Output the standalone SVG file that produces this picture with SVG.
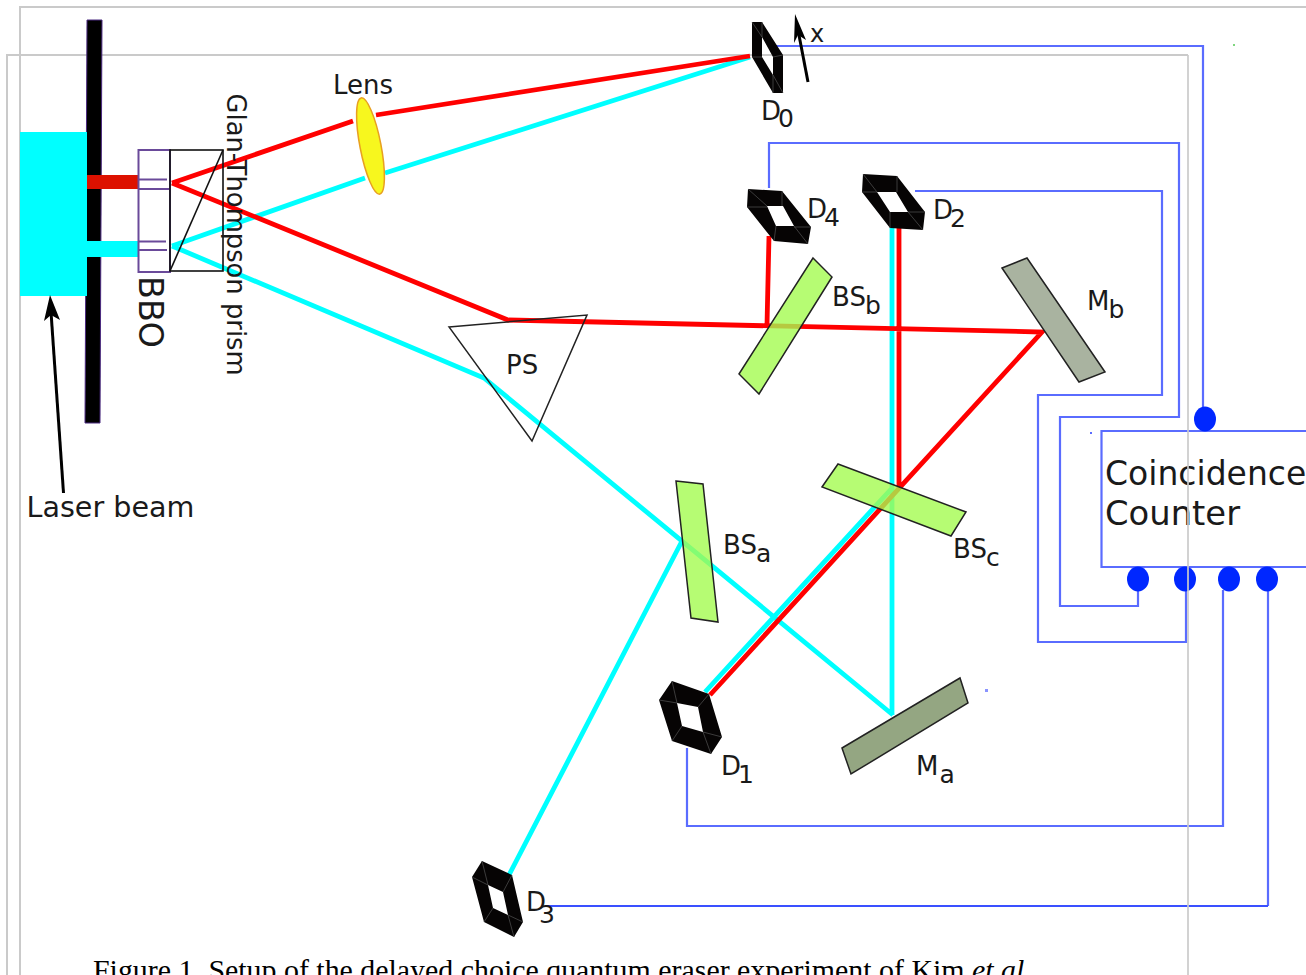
<svg xmlns="http://www.w3.org/2000/svg" width="1306" height="975" viewBox="0 0 1306 975">
<style>
text{font-family:"DejaVu Sans",sans-serif;fill:#1a1a1a}
.frame{fill:none;stroke:#cacaca;stroke-width:2}
.wire{fill:none;stroke:#5a6cff;stroke-width:2.200}
.red{fill:none;stroke:#ff0000;stroke-width:4.800}
.cy{fill:none;stroke:#00ffff;stroke-width:4.800}
.det{fill:#060404;fill-rule:evenodd}
.fac{fill:none;stroke:#4a4a4a;stroke-width:.8}
.dot{fill:#0027ff}
.bs{fill:#a4fb50;fill-opacity:.8;stroke:#222;stroke-width:1.500}
.lbl{font-size:26px}
.s{font-size:25px}
.bb{fill:none;stroke:#6a4a9a;stroke-width:2}
.pr{fill:none;stroke:#111;stroke-width:1.600}
</style>
<rect width="1306" height="975" fill="#fff"/>
<g id="frame"><path class="frame" d="M1306 7H20V975M7 975V55H1188"/></g>
<g id="laser"><path d="M87 20H102L100 423H85Z" fill="#000" stroke="#4b2a80" stroke-width="1"/><rect x="20" y="132" width="67" height="164" fill="#00ffff"/><rect x="87" y="175" width="51" height="14" fill="#dd1100"/><rect x="87" y="241" width="51" height="16" fill="#00ffff"/></g>
<g id="connectors">
<path class="cy" d="M172 246L365 178M385 173L750 57M172 246L484 378L893 715M892 715V228M682 541L509 875M893 487L705 692"/>
<path class="red" d="M172 183L353 121M376 115L750 56M172 183L508 320L1042 332L710 695M767 325L769 236M899 228V487"/>
<path class="wire" d="M775 46H1203V410M769 188V143H1179V417H1060V606H1138V590M915 191H1162V395H1038V642H1186V590M687 748V826H1223V590M1268 906V590"/>
<path class="wire" style="stroke:#3a50ff" d="M545 906H1268"/>
</g>
<g id="bbo"><rect class="bb" x="138.500" y="150" width="31.500" height="122"/><path class="bb" d="M138 179.500H167M138 189H170M138 241.500H166M138 250H167"/><text transform="translate(139,276) rotate(90)" font-size="33.500">BBO</text></g>
<g id="prism"><rect class="pr" x="170" y="150" width="53" height="121"/><path class="pr" d="M223 150L170 271"/><text transform="translate(227,93.500) rotate(90)" style="font-size:25.800px">Glan-Thompson prism</text></g>
<g id="lens"><ellipse cx="370.500" cy="146" rx="10.500" ry="49" transform="rotate(-11 370.500 146)" fill="#f7f71e" stroke="#e8a020" stroke-width="1.500"/><text x="333" y="94" class="lbl">Lens</text></g>
<g id="ps"><path d="M449 327L587 315L532 441Z" fill="none" stroke="#222" stroke-width="1.500"/><text x="506" y="374" class="lbl">PS</text></g>
<g id="bsb"><path class="bs" d="M813 258L832 277L759 394L739 374Z"/><text x="832" y="306" class="lbl">BS<tspan class="s" dx="-1" dy="8">b</tspan></text></g>
<g id="mb"><path d="M1002 268L1027 258L1105 372L1079 382Z" fill="#a9b3a0" stroke="#222" stroke-width="1.500"/><text x="1087" y="310" class="lbl">M<tspan class="s" dx="-1" dy="8">b</tspan></text></g>
<g id="bsa"><path class="bs" d="M676 481L703 484L718 622L691 618Z"/><text x="723" y="554" class="lbl">BS<tspan class="s" dx="-1" dy="8">a</tspan></text></g>
<g id="bsc"><path class="bs" d="M838 464L966 512L951 536L822 487Z"/><text x="953" y="558" class="lbl">BS<tspan class="s" dx="-1" dy="8">c</tspan></text></g>
<g id="ma"><path d="M842 748L960 678L968 703L851 774Z" fill="#94a682" stroke="#222" stroke-width="1.500"/><text x="916" y="775" class="lbl">M<tspan class="s" dx="1" dy="8">a</tspan></text></g>
<g id="d0"><path class="det" d="M752 22L762 22L783 55L783 93L773 93L752 57ZM762 37L762 57L773 75L773 57Z"/><path class="fac" d="M752 22L762 37M762 22V37M783 55L773 57M783 93L773 75M773 93V75M752 57H762"/><text x="761" y="120" class="lbl">D<tspan class="s" dx="-3" dy="7">0</tspan></text></g>
<g id="x"><path d="M808 82L798 30" stroke="#000" stroke-width="3"/><path d="M795 14L806 40L798 35L794 43Z" fill="#000"/><text x="810" y="42" style="font-size:24px">x</text></g>
<g id="d4"><path class="det" d="M748 189L782 191L811 227L808 244L774 241L747 207ZM767 206L776 226L794 226L783 206Z"/><path class="fac" d="M748 189L767 206M782 191V206M811 227H794M808 244L794 226M774 241L776 226M747 207H767"/><text x="807" y="218" class="lbl">D<tspan class="s" dx="-3" dy="8">4</tspan></text></g>
<g id="d2"><path class="det" d="M863 174L897 176L925 212L923 230L890 228L862 192ZM877 192L890 212L908 212L896 192Z"/><path class="fac" d="M863 174L877 192M897 176V192M925 212H908M923 230L908 212M890 228V212M862 192H877"/><text x="933" y="219" class="lbl">D<tspan class="s" dx="-3" dy="8">2</tspan></text></g>
<g id="d1"><path class="det" d="M672 681L709 694L722 737L711 754L672 741L659 700ZM677 703L682 726L703 732L698 707Z"/><path class="fac" d="M672 681L677 703M709 694L698 707M722 737L703 732M711 754L703 732M672 741L682 726M659 700L677 703"/><text x="721" y="775" class="lbl">D<tspan class="s" dx="-3" dy="8">1</tspan></text></g>
<g id="d3"><path class="det" d="M482 861L512 875L523 922L514 937L484 922L472 877ZM488 885L493 908L508 915L503 892Z"/><path class="fac" d="M482 861L488 885M512 875L503 892M523 922L508 915M514 937L508 915M484 922L493 908M472 877L488 885"/><text x="526" y="911" class="lbl">D<tspan class="s" dx="-7" dy="12">3</tspan></text></g>
<g id="counter"><path d="M1306 431H1101.500V567H1306" fill="none" stroke="#5a6cff" stroke-width="2.200"/><ellipse class="dot" cx="1205" cy="419" rx="11" ry="12.500"/><ellipse class="dot" cx="1138" cy="579" rx="11" ry="12.500"/><ellipse class="dot" cx="1185" cy="579" rx="11" ry="12.500"/><ellipse class="dot" cx="1229" cy="579" rx="11" ry="12.500"/><ellipse class="dot" cx="1267" cy="579" rx="11" ry="12.500"/><text x="1105" y="485" style="font-size:33px">Coincidence</text><text x="1105" y="525" style="font-size:33.800px">Counter</text></g>
<g id="laser-label"><path d="M63.500 493L51 312" stroke="#000" stroke-width="3"/><path d="M50 295L60 320L51 315L44 321Z" fill="#000"/><text x="26.500" y="517" style="font-size:28.600px">Laser beam</text></g>
<g id="specks"><rect x="1090" y="432" width="2" height="2" fill="#5a6cff"/><rect x="985" y="689" width="3" height="3" fill="#8a94ff"/><rect x="1233" y="44" width="2" height="2" fill="#7fd67f"/></g>
<g id="caption"><text x="93" y="980" style="font-family:'Liberation Serif',serif;font-size:29.900px;fill:#000">Figure 1. Setup of the delayed choice quantum eraser experiment of Kim <tspan font-style="italic">et al</tspan>.</text></g>
<path class="frame" d="M1188 55V975" stroke-opacity=".85"/>
</svg>
